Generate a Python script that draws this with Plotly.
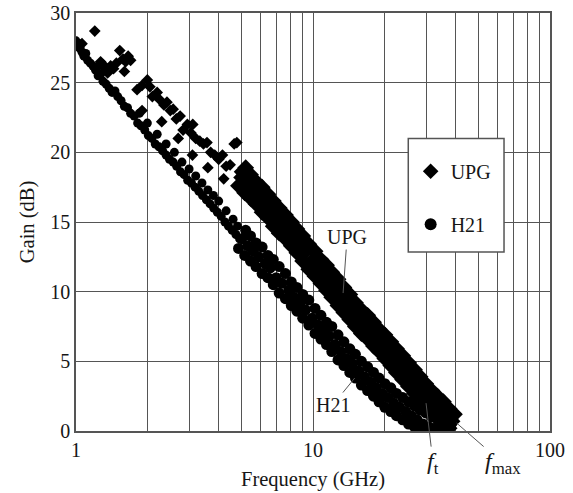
import plotly.graph_objects as go

# ---------------- data ----------------
# H21, sparse low-frequency part
h21_f_sparse = [1.00, 1.02, 1.04, 1.06, 1.08, 1.10, 1.12, 1.15, 1.18, 1.21, 1.24, 1.27, 1.30, 1.34,
                1.38, 1.42, 1.46, 1.50, 1.55, 1.60, 1.65, 1.70, 1.76, 1.82, 1.88, 1.95, 2.02, 2.09,
                2.16, 2.24, 2.32, 2.40, 2.48, 2.57, 2.66, 2.76, 2.86, 2.96, 3.07, 3.18, 3.30, 3.42,
                3.55, 3.68, 3.81, 3.95, 4.10, 4.25, 4.40, 4.56, 4.73, 4.90,
                1.85, 2.00, 2.20, 2.40, 2.60, 2.80, 3.00, 3.20, 3.40, 3.60, 3.80, 4.00, 4.30, 4.60, 4.80]
h21_g_sparse = [28.0, 27.6, 27.8, 27.2, 26.9, 27.1, 26.6, 26.4, 26.2, 25.9, 25.5, 25.6, 25.1, 24.9,
                24.6, 24.3, 24.4, 24.0, 23.7, 23.3, 23.2, 22.8, 22.6, 22.1, 21.9, 21.6, 21.2, 21.0,
                20.6, 20.4, 20.1, 19.8, 19.5, 19.3, 19.0, 18.6, 18.4, 18.0, 17.8, 17.5, 17.2, 16.9,
                16.6, 16.3, 16.0, 15.7, 15.4, 15.0, 14.7, 14.4, 14.1, 13.8,
                22.8, 22.1, 21.3, 20.6, 20.0, 19.3, 18.8, 18.3, 17.8, 17.3, 16.9, 16.5, 15.8, 15.2, 14.7]

# UPG, sparse low-frequency part
upg_f_sparse = [1.00, 1.03, 1.06, 1.20, 1.23, 1.27, 1.30, 1.33, 1.36, 1.40, 1.44, 1.48, 1.53, 1.58,
                1.62, 1.66, 1.70, 1.60, 1.81, 1.90, 2.00, 2.05, 2.10, 2.20, 2.25, 2.35, 2.42, 2.50,
                2.57, 2.65, 2.75, 2.83, 2.95, 3.05, 3.11, 3.20, 3.33, 3.45, 3.57, 3.70, 3.85, 4.00,
                4.15, 4.30, 4.47, 4.65, 4.77, 4.90,
                1.90, 2.30, 2.70, 3.10, 3.60, 4.20]
upg_g_sparse = [27.9, 27.5, 27.8, 28.7, 26.1, 26.5, 26.3, 26.0, 25.7, 26.2, 26.0, 26.4, 27.3, 26.7,
                26.5, 26.9, 26.6, 25.8, 24.5, 24.8, 25.2, 24.7, 24.0, 24.3, 23.8, 23.4, 23.6, 23.0,
                23.1, 22.4, 22.6, 21.6, 22.0, 21.4, 22.0, 21.0, 20.8, 20.6, 20.7, 20.0, 19.8, 19.5,
                19.8, 19.0, 19.1, 20.6, 20.7, 18.6,
                23.0, 22.2, 21.0, 19.8, 18.9, 18.1]

# dense high-frequency part: three rows (upper edge / middle / lower edge of each band)
f_mid = [5.0, 5.3, 5.6, 5.9, 6.3, 6.6, 7.0, 7.4, 7.9, 8.3, 8.8, 9.3, 9.9, 10.5, 11.1, 11.7, 12.4,
         13.1, 13.9, 14.7, 15.6, 16.5, 17.5, 18.5, 19.6, 20.7, 21.9, 23.2, 24.6, 26.0, 27.5, 29.1,
         30.8, 32.6, 34.5, 36.5, 38.6]
f_hi = [5.2, 5.45, 5.75, 6.1, 6.45, 6.8, 7.2, 7.65, 8.1, 8.55, 9.05, 9.6, 10.2, 10.8, 11.4, 12.0,
        12.75, 13.5, 14.3, 15.1, 16.0, 17.0, 18.0, 19.0, 20.1, 21.3, 22.5, 23.9, 25.3, 26.8, 28.3,
        29.9, 31.7, 33.5, 35.5, 37.5, 39.5]
f_lo = [4.85, 5.15, 5.45, 5.75, 6.1, 6.45, 6.8, 7.2, 7.65, 8.1, 8.55, 9.05, 9.6, 10.2, 10.8, 11.4,
        12.0, 12.75, 13.5, 14.3, 15.1, 16.0, 17.0, 18.0, 19.0, 20.1, 21.3, 22.5, 23.9, 25.3, 26.8,
        28.3, 29.9, 31.7, 33.5, 35.5, 37.5]

h21_g_mid = [13.8, 13.3, 12.9, 12.5, 12.0, 11.7, 11.0, 10.6, 10.1, 9.6, 9.2, 8.7, 8.1, 7.6, 7.2, 6.8,
             6.2, 5.7, 5.2, 4.8, 4.3, 3.9, 3.5, 3.1, 2.7, 2.4, 2.0, 1.7, 1.4, 1.1, 0.8, 0.5, 0.3, 0.2,
             0.3, 0.4, 0.6]
h21_g_hi = [14.4, 14.0, 13.5, 13.2, 12.6, 12.3, 11.8, 11.3, 10.7, 10.3, 9.8, 9.4, 8.8, 8.3, 7.8, 7.5,
            6.9, 6.4, 5.9, 5.5, 5.0, 4.6, 4.2, 3.8, 3.4, 3.1, 2.7, 2.4, 2.1, 1.8, 1.5, 1.3, 1.0, 0.9,
            1.0, 1.1, 1.2]
h21_g_lo = [13.1, 12.6, 12.2, 11.8, 11.3, 11.0, 10.5, 9.9, 9.5, 9.0, 8.6, 8.1, 7.6, 7.0, 6.6, 6.2,
            5.7, 5.1, 4.7, 4.2, 3.8, 3.3, 2.9, 2.5, 2.1, 1.7, 1.4, 1.1, 0.8, 0.5, 0.3, 0.1, 0.0, 0.0,
            0.0, 0.1, 0.2]

upg_g_mid = [18.2, 17.8, 17.3, 16.9, 16.3, 15.9, 15.3, 14.9, 14.4, 13.9, 13.4, 12.9, 12.2, 11.7, 11.2,
             10.8, 10.2, 9.6, 9.1, 8.6, 8.1, 7.6, 7.2, 6.7, 6.3, 5.8, 5.3, 4.8, 4.3, 3.8, 3.3, 2.8,
             2.3, 1.9, 1.5, 1.1, 0.7]
upg_g_hi = [18.9, 18.4, 17.9, 17.5, 17.0, 16.5, 16.0, 15.5, 15.0, 14.5, 14.0, 13.4, 12.9, 12.3, 11.9,
            11.4, 10.9, 10.3, 9.8, 9.2, 8.7, 8.3, 7.8, 7.3, 6.9, 6.4, 5.9, 5.4, 4.9, 4.4, 3.9, 3.4,
            2.9, 2.5, 2.1, 1.6, 1.2]
upg_g_lo = [17.6, 17.1, 16.7, 16.3, 15.7, 15.3, 14.7, 14.2, 13.8, 13.3, 12.8, 12.2, 11.6, 11.1, 10.6,
            10.1, 9.6, 9.0, 8.5, 8.0, 7.5, 7.0, 6.6, 6.1, 5.7, 5.2, 4.7, 4.2, 3.7, 3.2, 2.7, 2.2,
            1.7, 1.3, 0.9, 0.5, 0.2]

x_tick_vals = [1, 10, 100]
x_minor_vals = [2, 3, 4, 5, 6, 7, 8, 9, 20, 30, 40, 50, 60, 70, 80, 90]
y_tick_vals = [0, 5, 10, 15, 20, 25, 30]

# ---------------- figure ----------------
FONT = "Liberation Serif"
GRID = "#555555"
TXT = "#161616"

fig = go.Figure()
fig.add_trace(go.Scatter(x=upg_f_sparse, y=upg_g_sparse, mode="markers", name="UPG", legendgroup="a",
                         marker=dict(symbol="diamond", size=9, color="black", line=dict(width=0))))
fig.add_trace(go.Scatter(x=f_mid + f_hi + f_lo, y=upg_g_mid + upg_g_hi + upg_g_lo, mode="markers",
                         name="UPG", legendgroup="a", showlegend=False,
                         marker=dict(symbol="diamond", size=13, color="black", line=dict(width=0))))
fig.add_trace(go.Scatter(x=h21_f_sparse, y=h21_g_sparse, mode="markers", name="H21", legendgroup="b",
                         marker=dict(symbol="circle", size=9, color="black", line=dict(width=0))))
fig.add_trace(go.Scatter(x=f_mid + f_hi + f_lo, y=h21_g_mid + h21_g_hi + h21_g_lo, mode="markers",
                         name="H21", legendgroup="b", showlegend=False,
                         marker=dict(symbol="circle", size=11, color="black", line=dict(width=0))))

fig.update_layout(
    width=573, height=493,
    margin=dict(l=76, r=23, t=13, b=62, autoexpand=False),
    paper_bgcolor="white", plot_bgcolor="white",
    font=dict(family=FONT, size=20, color=TXT),
    showlegend=True,
    legend=dict(x=0.706, y=0.668, xanchor="left", yanchor="top",
                bgcolor="rgba(0,0,0,0)", borderwidth=0,
                tracegroupgap=24, font=dict(size=20, color=TXT), itemsizing="constant"),
    xaxis=dict(type="log", range=[0, 2], tickvals=x_tick_vals, ticktext=["1", "10", "100"],
               minor=dict(tickvals=x_minor_vals, showgrid=True, gridcolor=GRID, gridwidth=1.4,
                          ticks=""),
               showgrid=True, gridcolor=GRID, gridwidth=1.4, automargin=False,
               showline=True, linecolor=GRID, linewidth=1.6, mirror=True,
               ticks="", zeroline=False, tickfont=dict(size=20),
               title=dict(text="Frequency (GHz)", standoff=12, font=dict(size=20.5))),
    yaxis=dict(range=[0, 30], tickvals=y_tick_vals, automargin=False,
               showgrid=True, gridcolor=GRID, gridwidth=1.4,
               showline=True, linecolor=GRID, linewidth=1.6, mirror=True,
               ticks="", zeroline=False, tickfont=dict(size=20),
               title=dict(text="Gain (dB)", standoff=10, font=dict(size=20.5))),
    shapes=[dict(type="rect", xref="paper", yref="paper", x0=0.701, x1=0.903, y0=0.428, y1=0.70,
                 fillcolor="white", line=dict(color=GRID, width=1.5), layer="above")],
    annotations=[
        dict(x=1.127, y=9.9, xref="x", yref="y", text="UPG", showarrow=True, arrowhead=0,
             arrowwidth=1, arrowcolor="#555", ax=4, ay=-56, font=dict(size=20)),
        dict(x=1.176, y=3.8, xref="x", yref="y", text="H21", showarrow=True, arrowhead=0,
             arrowwidth=1, arrowcolor="#555", ax=-22, ay=27, font=dict(size=20)),
        dict(x=1.477, y=2.0, xref="x", yref="y", text="<i>f</i><sub>t</sub>", showarrow=True,
             arrowhead=0, arrowwidth=1, arrowcolor="#555", ax=7, ay=60, font=dict(size=24)),
        dict(x=1.606, y=0.57, xref="x", yref="y", text="<i>f</i><sub>max</sub>", showarrow=True,
             arrowhead=0, arrowwidth=1, arrowcolor="#555", ax=46, ay=40, font=dict(size=24)),
    ],
)

fig.write_html("out.html")
